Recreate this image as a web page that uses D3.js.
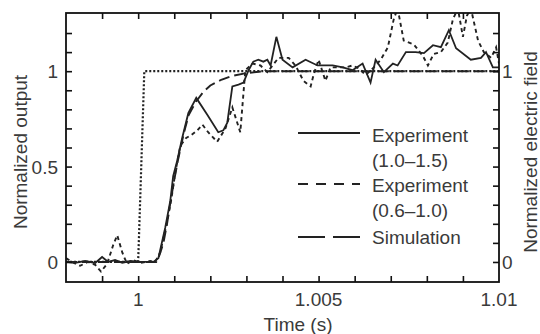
<!DOCTYPE html>
<html lang="en">
<head>
    <meta charset="UTF-8">
    <title>Normalized output vs time</title>
    <script src="https://cdnjs.cloudflare.com/ajax/libs/d3/7.8.5/d3.min.js"></script>
    <style>
        body {
            margin: 0;
            background-color: white;
        }
        text {
            font-family: "Liberation Sans", Arial, sans-serif;
            font-size: 19px;
            fill: #3a3a3a;
        }
    </style>
</head>
<body>
    <div id="chart"></div>

    <script>
        // Experiment (1.0-1.5): [time, value]
        const expHigh = [
            [0.998, 0], [0.99825, -0.005], [0.99853, 0.005], [0.99881, -0.005], [0.999, 0.026],
            [0.99917, 0], [0.99936, 0.01], [0.99956, -0.005], [0.99978, 0.005], [1.00006, 0],
            [1.00042, 0], [1.00056, 0.02], [1.00075, 0.18], [1.00089, 0.32], [1.00097, 0.45],
            [1.00108, 0.53], [1.00122, 0.65], [1.00139, 0.78], [1.00161, 0.86], [1.00192, 0.77],
            [1.00222, 0.68], [1.00236, 0.69], [1.00247, 0.73], [1.00261, 0.92], [1.00278, 0.93],
            [1.00292, 0.94], [1.00306, 1.005], [1.00319, 1.05], [1.00333, 1.06], [1.00347, 1.05],
            [1.00358, 1.06], [1.00367, 1.03], [1.00383, 1.18], [1.004, 1.06], [1.00428, 1.02],
            [1.00464, 1.06], [1.00497, 1.03], [1.00539, 1.03], [1.00567, 1.02], [1.00594, 1.005],
            [1.00622, 1.04], [1.00644, 0.94], [1.00658, 1.06], [1.00681, 0.995], [1.00706, 1.04],
            [1.00719, 1.03], [1.00742, 1.10], [1.00769, 1.10], [1.00792, 1.095], [1.00817, 1.136],
            [1.00839, 1.126], [1.00861, 1.215], [1.00881, 1.12], [1.00922, 1.06], [1.0095, 1.07],
            [1.00964, 1.10], [1.00983, 1.02], [1.01, 1.02]
        ];

        // Experiment (0.6-1.0)
        const expLow = [
            [0.998, 0.02], [0.99817, 0], [0.99839, -0.02], [0.99861, 0], [0.99881, -0.015],
            [0.99897, -0.05], [0.99914, -0.01], [0.99931, 0.09], [0.99942, 0.14], [0.99956, 0.05],
            [0.99969, -0.01], [0.99986, 0.01], [1.00006, -0.005], [1.00033, 0.005], [1.00047, 0],
            [1.00061, 0.05], [1.00078, 0.19], [1.00092, 0.33], [1.00103, 0.47], [1.00117, 0.61],
            [1.00133, 0.65], [1.00147, 0.665], [1.00164, 0.69], [1.00178, 0.72], [1.00194, 0.68],
            [1.00219, 0.63], [1.00242, 0.70], [1.00261, 0.81], [1.00283, 0.68], [1.00297, 1.005],
            [1.00317, 1.04], [1.00339, 1.03], [1.00358, 0.995], [1.00389, 1.07], [1.00417, 1.07],
            [1.00436, 1.03], [1.00458, 0.95], [1.00478, 0.92], [1.00486, 0.98], [1.005, 1.06],
            [1.00519, 0.95], [1.00533, 1.02], [1.00575, 1.02], [1.00594, 1.03], [1.00611, 1.015],
            [1.00631, 0.98], [1.00653, 1.02], [1.00672, 1.06], [1.00692, 1.125], [1.00708, 1.27],
            [1.00719, 1.33], [1.00736, 1.16], [1.00764, 1.14], [1.00789, 1.08], [1.00803, 1.03],
            [1.00819, 1.09], [1.00839, 1.10], [1.00858, 1.15], [1.00872, 1.27], [1.00886, 1.33],
            [1.009, 1.18], [1.00911, 1.29], [1.00922, 1.33], [1.00942, 1.16], [1.00958, 1.10],
            [1.00978, 1.07], [1.00992, 1.125], [1.01, 1.04]
        ];

        // Simulation
        const simulation = [
            [0.998, 0], [1.0005, 0], [1.00058, 0.03], [1.0007, 0.1], [1.0008, 0.2], [1.0009, 0.32],
            [1.001, 0.43], [1.0011, 0.53], [1.0012, 0.62], [1.0013, 0.7], [1.0014, 0.77],
            [1.0016, 0.84], [1.0018, 0.89], [1.002, 0.925], [1.0023, 0.955], [1.0026, 0.975],
            [1.003, 0.99], [1.0035, 1.0], [1.01, 1.0]
        ];

        // Normalized electric field (step)
        const field = [[0.998, 0], [1.0, 0], [1.00017, 1], [1.01, 1]];

        const xTicks = [1, 1.005, 1.01];
        const xTickLabels = ["1", "1.005", "1.01"];
        const xMinorTicks = d3.range(11).map(i => 0.999 + i * 0.001);
        const yTicks = [0, 0.5, 1];
        const yTickLabels = ["0", "0.5", "1"];
        const yMinorTicks = d3.range(13).map(i => i * 0.1);
        const y2Ticks = [0, 1];
        const y2TickLabels = ["0", "1"];

        const legendItems = [
            { label: ["Experiment", "(1.0\u20131.5)"], dash: null },
            { label: ["Experiment", "(0.6\u20131.0)"], dash: "10,8" },
            { label: ["Simulation"], dash: "27,8" }
        ];

        const width = 540, height = 334;
        const plotLeft = 66, plotRight = 499, plotTop = 13, plotBottom = 282;

        const svg = d3.select("#chart")
            .append("svg")
            .attr("width", width)
            .attr("height", height);

        const x = d3.scaleLinear().domain([0.998, 1.01]).range([plotLeft, plotRight]);
        const y = d3.scaleLinear().domain([-0.105, 1.305]).range([plotBottom, plotTop]);

        svg.append("defs").append("clipPath")
            .attr("id", "plot-clip")
            .append("rect")
            .attr("x", plotLeft).attr("y", plotTop)
            .attr("width", plotRight - plotLeft).attr("height", plotBottom - plotTop);

        const line = d3.line().x(d => x(d[0])).y(d => y(d[1]));
        const plot = svg.append("g").attr("clip-path", "url(#plot-clip)");

        // Data lines
        plot.append("path").datum(field)
            .attr("d", line).attr("fill", "none")
            .attr("stroke", "#222").attr("stroke-width", 2.2)
            .attr("stroke-dasharray", "2,2");

        plot.append("path").datum(simulation)
            .attr("d", line).attr("fill", "none")
            .attr("stroke", "#222").attr("stroke-width", 1.9)
            .attr("stroke-dasharray", "11,5");

        plot.append("path").datum(expLow)
            .attr("d", line).attr("fill", "none")
            .attr("stroke", "#222").attr("stroke-width", 1.9)
            .attr("stroke-dasharray", "4,3.5");

        plot.append("path").datum(expHigh)
            .attr("d", line).attr("fill", "none")
            .attr("stroke", "#222").attr("stroke-width", 1.8);

        // Axes (ticks point inward)
        const tickLen = 6;
        svg.append("g")
            .attr("transform", `translate(0,${plotBottom})`)
            .call(d3.axisBottom(x).tickValues(xMinorTicks).tickSize(-tickLen).tickFormat(""));
        svg.append("g")
            .attr("transform", `translate(0,${plotTop})`)
            .call(d3.axisTop(x).tickValues(xMinorTicks).tickSize(-tickLen).tickFormat(""));
        svg.append("g")
            .attr("transform", `translate(${plotLeft},0)`)
            .call(d3.axisLeft(y).tickValues(yMinorTicks).tickSize(-tickLen).tickFormat(""));
        svg.append("g")
            .attr("transform", `translate(${plotRight},0)`)
            .call(d3.axisRight(y).tickValues(yMinorTicks).tickSize(-tickLen).tickFormat(""));

        svg.selectAll(".domain").remove();
        svg.selectAll(".tick line").attr("stroke", "#111").attr("stroke-width", 1.6);

        // Frame
        svg.append("rect")
            .attr("x", plotLeft).attr("y", plotTop)
            .attr("width", plotRight - plotLeft).attr("height", plotBottom - plotTop)
            .attr("fill", "none").attr("stroke", "#111").attr("stroke-width", 1.8);

        // Tick labels
        svg.selectAll(".xlabel").data(xTicks).enter().append("text")
            .attr("x", d => x(d)).attr("y", plotBottom + 24)
            .attr("text-anchor", "middle")
            .text((d, i) => xTickLabels[i]);

        svg.selectAll(".ylabel").data(yTicks).enter().append("text")
            .attr("x", plotLeft - 8).attr("y", d => y(d) + 7)
            .attr("text-anchor", "end")
            .text((d, i) => yTickLabels[i]);

        svg.selectAll(".y2label").data(y2Ticks).enter().append("text")
            .attr("x", plotRight + 3).attr("y", d => y(d) + 7)
            .attr("text-anchor", "start")
            .text((d, i) => y2TickLabels[i]);

        // Axis titles
        svg.append("text")
            .attr("x", 298).attr("y", 331)
            .attr("text-anchor", "middle")
            .text("Time (s)");

        svg.append("text")
            .attr("transform", `translate(27,152) rotate(-90)`)
            .attr("text-anchor", "middle")
            .text("Normalized output");

        svg.append("text")
            .attr("transform", `translate(537,152) rotate(-90)`)
            .attr("text-anchor", "middle")
            .text("Normalized electric field");

        // Legend
        const legendRows = [[133, 135], [184, 185], [237, 237]];
        legendItems.forEach((item, i) => {
            const [ly, ty] = legendRows[i];
            svg.append("line")
                .attr("x1", 298).attr("x2", 360)
                .attr("y1", ly).attr("y2", ly)
                .attr("stroke", "#222").attr("stroke-width", 1.9)
                .attr("stroke-dasharray", item.dash);
            item.label.forEach((t, j) => {
                svg.append("text")
                    .attr("x", 372).attr("y", ty + 7 + j * 25)
                    .text(t);
            });
        });
    </script>
</body>
</html>
